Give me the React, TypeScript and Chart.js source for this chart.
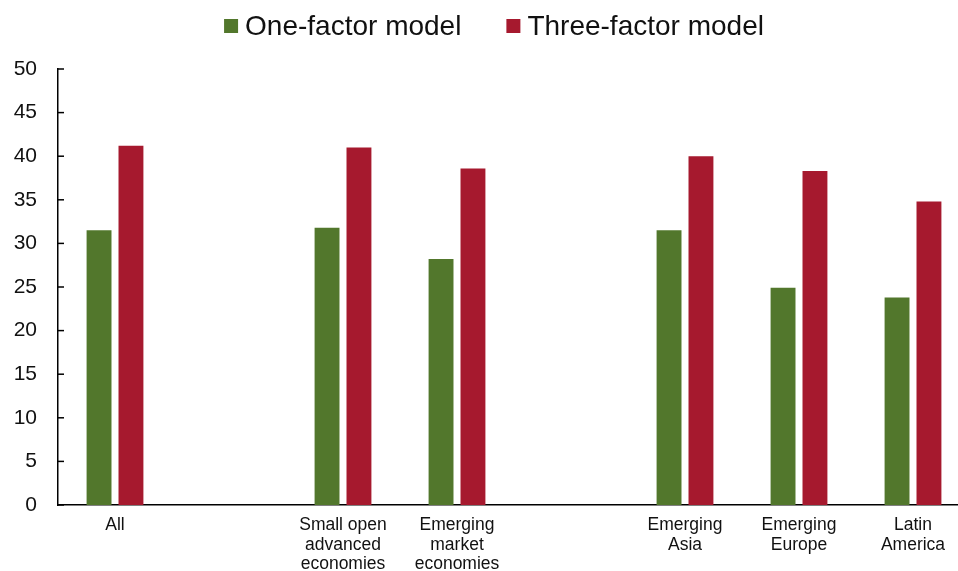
import React, { useEffect, useRef } from "react";
import { Chart, registerables } from "chart.js";

Chart.register(...registerables);

const categories: (string | string[])[] = [
  "All",
  "",
  ["Small open", "advanced", "economies"],
  ["Emerging", "market", "economies"],
  "",
  ["Emerging", "Asia"],
  ["Emerging", "Europe"],
  ["Latin", "America"],
];
const seriesNames = ["One-factor model", "Three-factor model"];
const oneFactor: (number | null)[] = [31.5, null, 31.8, 28.2, null, 31.5, 24.9, 23.8];
const threeFactor: (number | null)[] = [41.2, null, 41.0, 38.6, null, 40.0, 38.3, 34.8];
const yMin = 0;
const yMax = 50;
const yStep = 5;

const GREEN = "#52772C";
const RED = "#A6192E";
const FONT = 'Arial, "Liberation Sans", sans-serif';

const legendPlugin = {
  id: "customLegend",
  afterDraw(chart: any) {
    const ctx = chart.ctx as CanvasRenderingContext2D;
    ctx.save();
    ctx.font = `28px ${FONT}`;
    ctx.textBaseline = "middle";
    const box = 14;
    const gapText = 7;
    const gapItem = 45;
    const items = chart.data.datasets.map((d: any) => ({
      label: d.label as string,
      color: d.backgroundColor as string,
      w: ctx.measureText(d.label).width,
    }));
    const total =
      items.reduce((s: number, it: any) => s + box + gapText + it.w, 0) +
      gapItem * (items.length - 1);
    let x = 494 - total / 2;
    const y = 26;
    for (const it of items) {
      ctx.fillStyle = it.color;
      ctx.fillRect(x, y - box / 2, box, box);
      x += box + gapText;
      ctx.fillStyle = "#111";
      ctx.textAlign = "left";
      ctx.fillText(it.label, x, y + 1);
      x += it.w + gapItem;
    }
    ctx.restore();
  },
};

const innerTicksPlugin = {
  id: "innerTicks",
  afterDraw(chart: any) {
    const ys = chart.scales.y;
    const ctx = chart.ctx as CanvasRenderingContext2D;
    ctx.save();
    ctx.strokeStyle = "#000";
    ctx.lineWidth = 1.5;
    const x0 = chart.chartArea.left;
    ys.ticks.forEach((t: any) => {
      const py = ys.getPixelForValue(t.value);
      ctx.beginPath();
      ctx.moveTo(x0, py);
      ctx.lineTo(x0 + 6, py);
      ctx.stroke();
    });
    ctx.restore();
  },
};

export default function App() {
  const ref = useRef<HTMLCanvasElement | null>(null);

  useEffect(() => {
    document.body.style.margin = "0";
    document.body.style.overflow = "hidden";
    document.documentElement.style.overflow = "hidden";
    const canvas = ref.current;
    if (!canvas) return;
    const chart = new Chart(canvas, {
      type: "bar",
      data: {
        labels: categories as any,
        datasets: [
          {
            label: seriesNames[0],
            data: oneFactor,
            backgroundColor: GREEN,
            categoryPercentage: 0.56,
            barPercentage: 0.78,
          },
          {
            label: seriesNames[1],
            data: threeFactor,
            backgroundColor: RED,
            categoryPercentage: 0.56,
            barPercentage: 0.78,
          },
        ],
      },
      options: {
        animation: false,
        responsive: true,
        maintainAspectRatio: false,
        layout: { padding: { top: 69, left: 0, right: 0, bottom: 0 } },
        plugins: {
          legend: { display: false },
          tooltip: { enabled: false },
        },
        scales: {
          x: {
            grid: { display: false, drawTicks: false },
            border: { display: true, color: "#000", width: 1.5 },
            ticks: {
              color: "#111",
              font: { family: FONT, size: 17.5, lineHeight: 1.1 },
              padding: 11,
              maxRotation: 0,
              autoSkip: false,
            },
            afterFit: (scale: any) => {
              scale.height = 66;
            },
          },
          y: {
            min: yMin,
            max: yMax,
            grid: { display: false, drawTicks: false },
            border: { display: true, color: "#000", width: 1.5 },
            ticks: {
              stepSize: yStep,
              color: "#111",
              font: { family: FONT, size: 21 },
              padding: 21,
            },
            afterFit: (scale: any) => {
              scale.width = 58;
            },
          },
        },
      },
      plugins: [legendPlugin, innerTicksPlugin],
    });
    return () => chart.destroy();
  }, []);

  return (
    <div style={{ position: "fixed", left: 0, top: 0, width: 970, height: 571 }}>
      <canvas ref={ref} />
    </div>
  );
}
